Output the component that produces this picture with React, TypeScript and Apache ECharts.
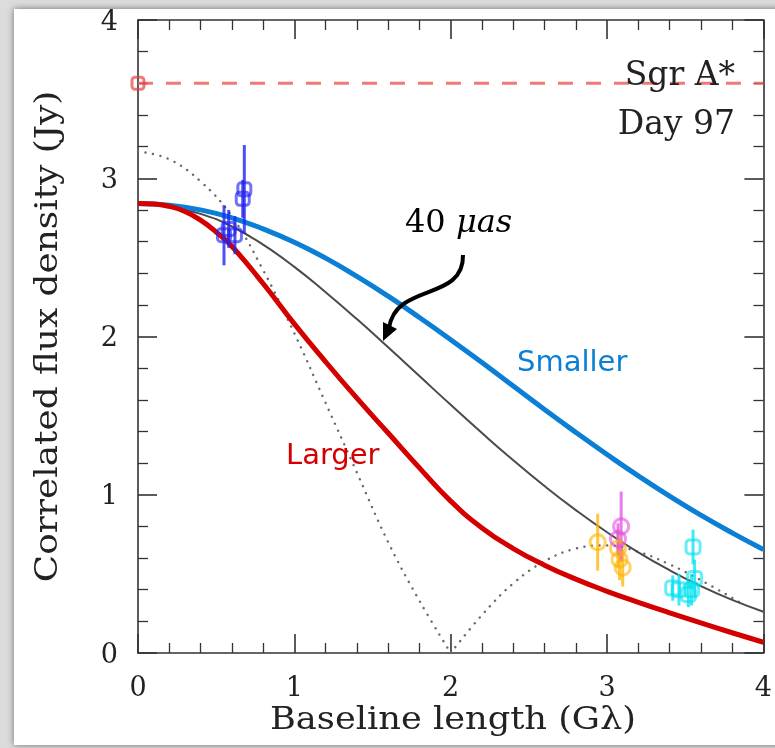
import React, { useEffect, useRef } from "react";
import * as echarts from "echarts";

// Baseline sampling (Gλ) for the model visibility curves
const modelX = [0, 0.2, 0.4, 0.6, 0.8, 1.0, 1.2, 1.4, 1.6, 1.8, 2.0, 2.2, 2.4, 2.6, 2.8, 3.0, 3.2, 3.4, 3.6, 3.8, 4.0];
// "Smaller" source model (Jy)
const smallerY = [2.84, 2.83, 2.8, 2.75, 2.68, 2.595, 2.495, 2.38, 2.255, 2.12, 1.98, 1.835, 1.687, 1.539, 1.394, 1.254, 1.119, 0.991, 0.871, 0.759, 0.654];
// 40 µas model (Jy)
const midY = [2.84, 2.82, 2.775, 2.695, 2.58, 2.44, 2.28, 2.11, 1.932, 1.75, 1.568, 1.39, 1.218, 1.055, 0.903, 0.763, 0.636, 0.523, 0.423, 0.336, 0.261];
// "Larger" source model (Jy), sampled more finely near the origin
const largerX = [0, 0.1, 0.2, 0.3, 0.4, 0.5, 0.6, 0.8, 1.0, 1.2, 1.4, 1.6, 1.8, 2.0, 2.2, 2.4, 2.6, 2.8, 3.0, 3.2, 3.4, 3.6, 3.8, 4.0];
const largerY = [2.84, 2.837, 2.822, 2.79, 2.735, 2.66, 2.57, 2.335, 2.08, 1.84, 1.61, 1.39, 1.17, 0.96, 0.79, 0.66, 0.555, 0.467, 0.39, 0.32, 0.254, 0.19, 0.128, 0.068];

// Ring-like model (dotted), first lobe and second lobe
const ringLobe1X = [0, 0.2, 0.4, 0.6, 0.8, 1.0, 1.2, 1.4, 1.6, 1.8, 2.0];
const ringLobe1Y = [3.17, 3.12, 2.98, 2.76, 2.42, 2.02, 1.58, 1.14, 0.7, 0.33, 0];
const ringLobe2X = [2.0, 2.2, 2.4, 2.6, 2.8, 3.0, 3.2, 3.4, 3.6, 3.85];
const ringLobe2Y = [0, 0.24, 0.44, 0.58, 0.66, 0.68, 0.64, 0.56, 0.46, 0.32];

// Total (zero-spacing) flux level
const totalFlux = 3.6;

// Measured correlated flux densities: baseline, flux, error
const blueX = [0.55, 0.58, 0.62, 0.67, 0.68];
const blueY = [2.64, 2.68, 2.64, 2.87, 2.93];
const blueErr = [0.19, 0.12, 0.12, 0.12, 0.28];

const goldX = [2.94, 3.07, 3.08, 3.1];
const goldY = [0.7, 0.66, 0.59, 0.54];
const goldErr = [0.18, 0.12, 0.13, 0.12];

const magentaX = [3.09, 3.07];
const magentaY = [0.8, 0.72];
const magentaErr = [0.22, 0.1];

const cyanX = [3.42, 3.46, 3.52, 3.54, 3.55, 3.56];
const cyanY = [0.41, 0.4, 0.37, 0.4, 0.67, 0.47];
const cyanErr = [0.08, 0.1, 0.08, 0.1, 0.11, 0.12];

const tickValues = ["0", "1", "2", "3", "4"];

const pts = (xs: number[], ys: number[]) => xs.map((x, i) => [x, ys[i]]);
const errPts = (xs: number[], ys: number[], es: number[]) => xs.map((x, i) => [x, ys[i], es[i]]);

const SERIF = '"DejaVu Serif", serif';
const SANS = '"DejaVu Sans", sans-serif';
const AXIS_COLOR = "#333";
const TEXT_COLOR = "#222";

// plot box in page pixels
const PLOT = { left: 138, top: 20, right: 768, bottom: 653 };

function errorBars(name: string, data: number[][], color: string) {
  return {
    name,
    type: "custom",
    coordinateSystem: "cartesian2d",
    encode: { x: 0, y: 1 },
    z: 5,
    data,
    renderItem: (_params: any, api: any) => {
      const x = api.value(0);
      const y = api.value(1);
      const e = api.value(2);
      const top = api.coord([x, y + e]);
      const bot = api.coord([x, y - e]);
      return {
        type: "line",
        shape: { x1: top[0], y1: top[1], x2: bot[0], y2: bot[1] },
        style: { stroke: color, lineWidth: 3 },
      };
    },
  };
}

function markers(name: string, data: number[][], color: string, symbol: string, size: number) {
  return {
    name,
    type: "scatter",
    z: 6,
    symbol,
    symbolSize: size,
    data,
    itemStyle: { color: "rgba(255,255,255,0)", borderColor: color, borderWidth: 3 },
  };
}

function axisBase(showLabel: boolean) {
  return {
    min: 0,
    max: 4,
    interval: 1,
    axisLine: { show: true, onZero: false, lineStyle: { color: AXIS_COLOR, width: 1.6 } },
    axisTick: { show: true, inside: true, length: 19, lineStyle: { color: AXIS_COLOR, width: 1.6 } },
    minorTick: { show: true, splitNumber: 5, length: 10, lineStyle: { color: AXIS_COLOR, width: 1.3 } },
    splitLine: { show: false },
    minorSplitLine: { show: false },
    axisLabel: {
      show: showLabel,
      fontFamily: SERIF,
      fontSize: 27,
      color: TEXT_COLOR,
      margin: 20,
      formatter: (v: number) => tickValues[Math.round(v)] ?? String(v),
    },
  };
}

const dotted = { color: "#6a6a6a", width: 2.4, type: [0.1, 7.5], cap: "round" };

export default function App() {
  const ref = useRef<HTMLDivElement>(null);

  useEffect(() => {
    if (!ref.current) return;
    const chart = echarts.init(ref.current, undefined, { renderer: "svg" });

    const option: any = {
      animation: false,
      grid: {
        left: PLOT.left,
        top: PLOT.top,
        right: 775 - PLOT.right,
        bottom: 748 - PLOT.bottom,
        containLabel: false,
      },
      xAxis: [
        { ...axisBase(true), type: "value", position: "bottom" },
        { ...axisBase(false), type: "value", position: "top" },
      ],
      yAxis: [
        { ...axisBase(true), type: "value", position: "left" },
        { ...axisBase(false), type: "value", position: "right" },
      ],
      series: [
        {
          name: "ring lobe 1",
          type: "line",
          smooth: 0.4,
          showSymbol: false,
          z: 2,
          data: pts(ringLobe1X, ringLobe1Y),
          lineStyle: dotted,
        },
        {
          name: "ring lobe 2",
          type: "line",
          smooth: 0.4,
          showSymbol: false,
          z: 2,
          data: pts(ringLobe2X, ringLobe2Y),
          lineStyle: dotted,
        },
        {
          name: "40 µas",
          type: "line",
          smooth: true,
          showSymbol: false,
          z: 3,
          data: pts(modelX, midY),
          lineStyle: { color: "#4a4a4a", width: 2 },
        },
        {
          name: "Smaller",
          type: "line",
          smooth: true,
          showSymbol: false,
          z: 4,
          data: pts(modelX, smallerY),
          lineStyle: { color: "#0a7fd5", width: 5 },
        },
        {
          name: "Larger",
          type: "line",
          smooth: true,
          showSymbol: false,
          z: 4,
          data: pts(largerX, largerY),
          lineStyle: { color: "#d40000", width: 5 },
        },
        {
          name: "total flux",
          type: "line",
          showSymbol: false,
          z: 3,
          data: [
            [0, totalFlux],
            [4, totalFlux],
          ],
          lineStyle: { color: "rgba(240,95,95,0.85)", width: 3, type: [15, 13] },
        },
        markers("total flux point", [[0, totalFlux]], "rgba(230,60,60,0.85)", "roundRect", 12),
        errorBars("blue err", errPts(blueX, blueY, blueErr), "rgba(35,35,240,0.8)"),
        markers("blue", pts(blueX, blueY), "rgba(35,35,240,0.8)", "roundRect", 13),
        errorBars("gold err", errPts(goldX, goldY, goldErr), "rgba(255,180,0,0.75)"),
        markers("gold", pts(goldX, goldY), "rgba(255,180,0,0.75)", "circle", 15),
        errorBars("magenta err", errPts(magentaX, magentaY, magentaErr), "rgba(225,80,225,0.75)"),
        markers("magenta", pts(magentaX, magentaY), "rgba(225,80,225,0.75)", "circle", 15),
        errorBars("cyan err", errPts(cyanX, cyanY, cyanErr), "rgba(0,225,240,0.75)"),
        markers("cyan", pts(cyanX, cyanY), "rgba(0,225,240,0.75)", "roundRect", 14),
      ],
      graphic: [
        {
          type: "rect",
          z: -100,
          silent: true,
          shape: { x: 0, y: 0, width: 775, height: 748 },
          style: { fill: "#dcdcdc" },
        },
        {
          type: "rect",
          z: -99,
          silent: true,
          shape: { x: 14, y: 9, width: 800, height: 736 },
          style: { fill: "#ffffff", shadowBlur: 7, shadowColor: "rgba(0,0,0,0.5)" },
        },
        {
          type: "text",
          z: 10,
          x: (PLOT.left + PLOT.right) / 2,
          y: 718,
          scaleX: 1.1,
          style: {
            text: "Baseline length (Gλ)",
            fontFamily: SERIF,
            fontSize: 32,
            fill: TEXT_COLOR,
            align: "center",
            verticalAlign: "middle",
          },
        },
        {
          type: "text",
          z: 10,
          x: 46,
          y: (PLOT.top + PLOT.bottom) / 2,
          rotation: Math.PI / 2,
          scaleX: 1.12,
          style: {
            text: "Correlated flux density (Jy)",
            fontFamily: SERIF,
            fontSize: 32,
            fill: TEXT_COLOR,
            align: "center",
            verticalAlign: "middle",
          },
        },
        {
          type: "text",
          z: 10,
          x: 735,
          y: 73,
          style: {
            text: "Sgr A*",
            fontFamily: SERIF,
            fontSize: 33,
            fill: TEXT_COLOR,
            align: "right",
            verticalAlign: "middle",
          },
        },
        {
          type: "text",
          z: 10,
          x: 735,
          y: 122,
          style: {
            text: "Day 97",
            fontFamily: SERIF,
            fontSize: 33,
            fill: TEXT_COLOR,
            align: "right",
            verticalAlign: "middle",
          },
        },
        {
          type: "text",
          z: 10,
          x: 405,
          y: 221,
          style: {
            text: "{a|40 }{b|μas}",
            verticalAlign: "middle",
            rich: {
              a: { fontFamily: SERIF, fontSize: 32, color: "#111" },
              b: { fontFamily: SERIF, fontSize: 32, fontStyle: "italic", color: "#111" },
            },
          },
        },
        {
          type: "text",
          z: 10,
          x: 517,
          y: 361,
          style: {
            text: "Smaller",
            fontFamily: SANS,
            fontSize: 29,
            fill: "#0a7fd5",
            verticalAlign: "middle",
          },
        },
        {
          type: "text",
          z: 10,
          x: 286,
          y: 454,
          style: {
            text: "Larger",
            fontFamily: SANS,
            fontSize: 29,
            fill: "#d40000",
            verticalAlign: "middle",
          },
        },
        {
          type: "bezierCurve",
          z: 10,
          shape: { x1: 463, y1: 255, cpx1: 464, cpy1: 302, cpx2: 396, cpy2: 282, x2: 389, y2: 328 },
          style: { stroke: "#000", lineWidth: 4, fill: null },
        },
        {
          type: "polygon",
          z: 10,
          shape: {
            points: [
              [383, 341],
              [397, 329],
              [383, 322],
            ],
          },
          style: { fill: "#000" },
        },
      ],
    };

    chart.setOption(option);
    return () => chart.dispose();
  }, []);

  return (
    <div
      ref={ref}
      style={{ position: "fixed", left: 0, top: 0, width: 775, height: 748 }}
    />
  );
}
